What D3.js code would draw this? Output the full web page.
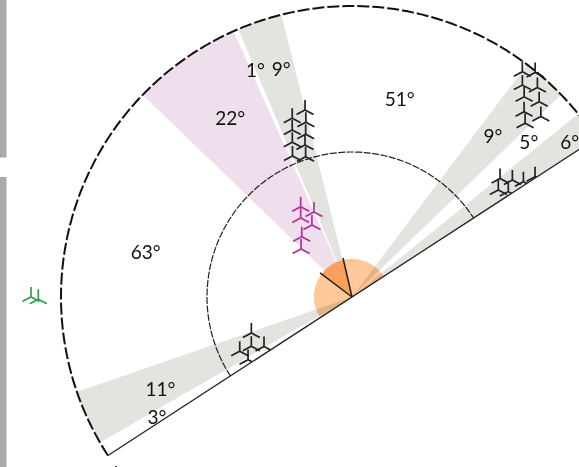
<!DOCTYPE html>
<html>
<head>
<meta charset="utf-8">
<script src="https://cdn.jsdelivr.net/npm/d3@7"></script>
<style>
  html, body { margin: 0; padding: 0; background: #fff; overflow: hidden; }
  svg { display: block; }
  text { font-family: Lato, sans-serif; font-size: 19px; fill: #111; }
</style>
</head>
<body>
<div id="chart"></div>
<script>
// sectors, going clockwise from the left end of the baseline (degrees)
const sectorSizes = [3, 11, 63, 22, 1, 9, 51, 9, 5, 6];
const sectorKinds = ["none", "grey", "none", "pink", "none", "grey", "none", "grey", "none", "grey"];

// label text, and where each one sits (degrees, distance from the centre)
const labelTexts = ["3°", "11°", "63°", "22°", "1°", "9°", "51°", "9°", "5°", "6°"];
const labelAngles = [1.4, 7.2, 45.1, 88.7, 99.9, 105.7, 136.6, 164.2, 171.8, 177.6];
const labelDists = [229, 212.7, 211, 216, 246, 238, 203, 214, 235, 267];

// orange wedge inside the half disc
const wedgeAngles = [70, 110];

// turbine symbols (degrees, distance from the centre)
const blackAngles = [108.9, 104.5, 108.2, 103.3, 107.1, 101.9, 105.8, 100.1, 104.7,
  160.1, 162.2, 161.8, 164.5, 163.7, 166.8, 165.9, 169.3, 167.9,
  174.3, 176.9, 179.1, 179.7, 176.8, 179,
  13.3, 3.7, 6.9, 7.2, 1.9];
const blackDists = [192.8, 188.4, 180.7, 177.3, 169.2, 165.8, 159.1, 153, 147.7,
  282.4, 289.8, 271.9, 279.8, 264, 270.4, 252.8, 261.2, 245.2,
  189.7, 198.5, 206.5, 219, 181.3, 188.5,
  106.9, 100.9, 112.1, 124.7, 121.4];
const magentaAngles = [93.4, 98.9, 90, 93.9, 83.2, 76.3];
const magentaDists = [103.9, 93.1, 94.2, 82.4, 78.5, 70];
const greenAngles = [33, 32.6];
const greenDists = [321, 313.7];
const strayAngles = [-4.2];
const strayDists = [296.2];

const width = 579;
const height = 467;
const cx = 352;
const cy = 297;
const outerR = 291;
const innerR = 145;
const orangeR = 38;

const colors = { none: "#fff", grey: "#e3e4e0", pink: "#efdeec" };

const svg = d3.select("#chart").append("svg")
  .attr("width", width)
  .attr("height", height);

// the two grey bars on the left edge
svg.append("rect").attr("x", 0).attr("y", 0).attr("width", 6.5).attr("height", 157.5).attr("fill", "#a9a9ae");
svg.append("rect").attr("x", 0).attr("y", 177).attr("width", 6.5).attr("height", 290).attr("fill", "#a9a9ae");

// 0 = left end of baseline, 180 = right end
const angle = d3.scaleLinear().domain([0, 180]).range([-123, 57].map(d => d * Math.PI / 180));
const dist = d3.scaleLinear().domain([0, 291]).range([0, outerR]);

function px(a, d) { return dist(d) * Math.sin(angle(a)); }
function py(a, d) { return -dist(d) * Math.cos(angle(a)); }

const g = svg.append("g").attr("transform", `translate(${cx},${cy})`);

// nothing in the field is drawn below the baseline
svg.append("clipPath").attr("id", "field")
  .append("path")
  .attr("d", d3.arc()({ innerRadius: 0, outerRadius: 700, startAngle: angle(0), endAngle: angle(180) }));

// sectors
const ends = Array.from(d3.cumsum(sectorSizes));
const arc = d3.arc().innerRadius(0).outerRadius(dist(outerR));

g.selectAll("path.sector")
  .data(sectorSizes)
  .enter()
  .append("path")
  .attr("class", "sector")
  .attr("fill", (d, i) => colors[sectorKinds[i]])
  .attr("d", (d, i) => arc({ startAngle: angle(ends[i] - d), endAngle: angle(ends[i]) }));

// orange half disc and wedge
const orangeArc = d3.arc().innerRadius(0).outerRadius(orangeR);
g.append("path")
  .attr("d", orangeArc({ startAngle: angle(0), endAngle: angle(180) }))
  .attr("fill", "#fec898")
  .style("mix-blend-mode", "multiply");
g.append("path")
  .attr("d", orangeArc({ startAngle: angle(wedgeAngles[0]), endAngle: angle(wedgeAngles[1]) }))
  .attr("fill", "#fba05c");

// turbine symbol: one arm up and two arms down
function turbines(angles, dists, color, clipped) {
  const layer = g.append("g").attr("clip-path", clipped ? "url(#field)" : null);
  layer.selectAll("path")
    .data(angles)
    .enter()
    .append("path")
    .attr("transform", (d, i) => `translate(${px(d, dists[i])},${py(d, dists[i])})`)
    .attr("d", "M0,-10L0,0M-8.5,4.5L0,0L8.5,4.5")
    .attr("fill", "none")
    .attr("stroke", color)
    .attr("stroke-width", 1.7);
}
turbines(magentaAngles, magentaDists, "#b2309a", true);
turbines(blackAngles, blackDists, "#222", true);
turbines(greenAngles, greenDists, "#2e9e50", false);
turbines(strayAngles, strayDists, "#222", false);

// dashed arcs
const radial = d3.lineRadial().angle(d => angle(d));
const degs = d3.range(0, 181);

g.append("path")
  .attr("d", radial.radius(dist(outerR))(degs))
  .attr("fill", "none")
  .attr("stroke", "#111")
  .attr("stroke-width", 2)
  .attr("stroke-dasharray", "12 3");

g.append("path")
  .attr("d", radial.radius(dist(innerR))(degs))
  .attr("fill", "none")
  .attr("stroke", "#222")
  .attr("stroke-width", 1.2)
  .attr("stroke-dasharray", "7 1.5");

// baseline
g.append("line")
  .attr("x1", px(0, outerR)).attr("y1", py(0, outerR))
  .attr("x2", px(180, outerR)).attr("y2", py(180, outerR))
  .attr("stroke", "#222")
  .attr("stroke-width", 1.3);

// wedge edges
g.selectAll("line.edge")
  .data(wedgeAngles)
  .enter()
  .append("line")
  .attr("class", "edge")
  .attr("x1", 0).attr("y1", 0)
  .attr("x2", d => px(d, 40)).attr("y2", d => py(d, 40))
  .attr("stroke", "#222")
  .attr("stroke-width", 1.5);

// labels
g.selectAll("text")
  .data(labelTexts)
  .enter()
  .append("text")
  .attr("x", (d, i) => px(labelAngles[i], labelDists[i]))
  .attr("y", (d, i) => py(labelAngles[i], labelDists[i]))
  .attr("dy", "0.35em")
  .attr("text-anchor", "middle")
  .text(d => d);
</script>
</body>
</html>
